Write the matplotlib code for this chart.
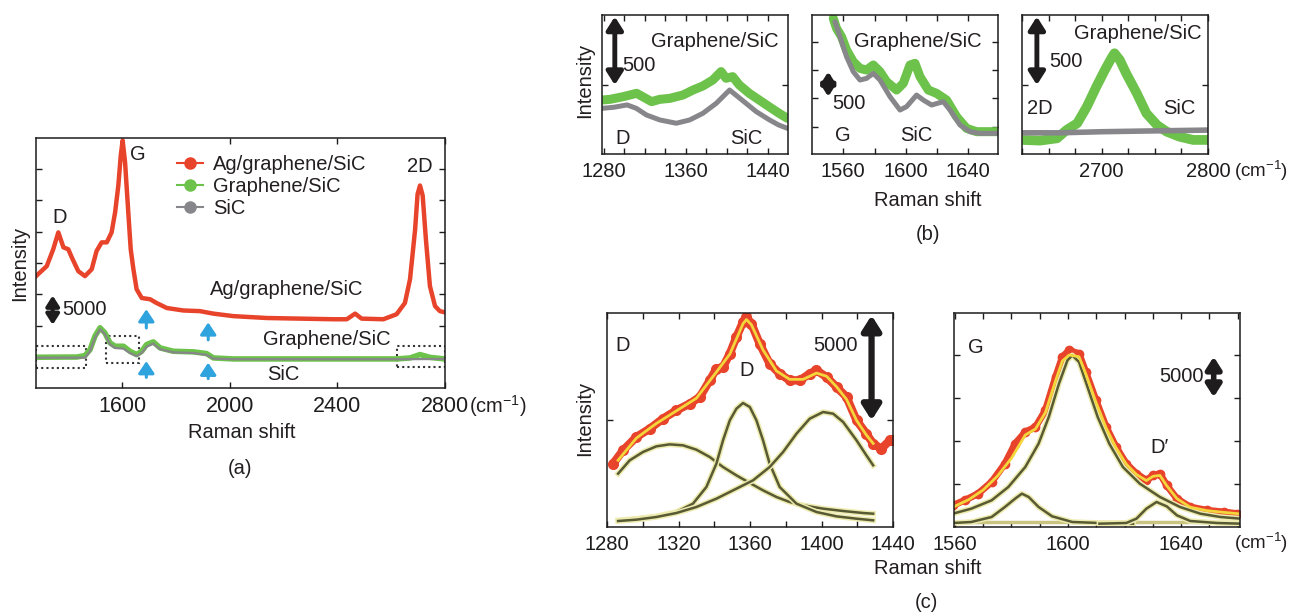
import matplotlib.pyplot as plt
import matplotlib.patheffects as pe
from matplotlib.lines import Line2D
from matplotlib.patches import Rectangle

plt.rcParams['font.family'] = ['Liberation Sans', 'DejaVu Sans']
plt.rcParams['font.size'] = 14
plt.rcParams['text.color'] = '#231f20'
plt.rcParams['mathtext.fontset'] = 'custom'
plt.rcParams['mathtext.rm'] = 'Liberation Sans'
plt.rcParams['mathtext.default'] = 'rm'

# ---------- (a) full spectra ----------
a_x_ag = [1280, 1320, 1344, 1363, 1382, 1400, 1413, 1437, 1462, 1487, 1505, 1524, 1543, 1561, 1574,
          1586, 1595, 1602, 1611, 1623, 1632, 1642, 1654, 1673, 1704, 1728, 1766, 1828, 1889, 1939,
          2013, 2137, 2261, 2385, 2435, 2466, 2490, 2571, 2620, 2651, 2670, 2689, 2698, 2707, 2717,
          2729, 2744, 2763, 2781, 2800]
a_y_ag = [17900, 19500, 22200, 24900, 22500, 22200, 20900, 18700, 17900, 19000, 21900, 23300, 23300,
          24900, 28100, 32400, 37200, 39600, 36100, 28100, 22200, 19000, 15800, 14400, 14200, 13600,
          12800, 12400, 12300, 11900, 11500, 11200, 11100, 11000, 11000, 11900, 11100, 11000, 11800,
          13600, 17400, 25400, 31000, 32400, 30800, 23800, 16300, 13100, 12300, 12100]
a_x_gr = [1280, 1394, 1431, 1462, 1481, 1499, 1518, 1536, 1555, 1574, 1605, 1629, 1654, 1673, 1691,
          1716, 1741, 1790, 1865, 1914, 1939, 2013, 2261, 2620, 2670, 2707, 2744, 2800]
a_y_gr = [4920, 4950, 4950, 5190, 6150, 8290, 9630, 8820, 7220, 6680, 6680, 5880, 5350, 5880, 6950,
          7380, 6420, 5880, 5780, 5510, 4810, 4650, 4650, 4650, 4810, 5350, 4900, 4650]
a_x_sic = [1280, 1462, 1481, 1499, 1518, 1536, 1555, 1574, 1605, 1629, 1654, 1673, 1691, 1716, 1741,
           1790, 1865, 1914, 1939, 2013, 2620, 2800]
a_y_sic = [4850, 4850, 5900, 8000, 9400, 8600, 7000, 6400, 6300, 5600, 5100, 5600, 6600, 7100, 6200,
           5700, 5600, 5300, 4700, 4600, 4600, 4650]
a_labels = ['Ag/graphene/SiC', 'Graphene/SiC', 'SiC']

# ---------- (b) zoomed graphene/SiC vs SiC ----------
b1_x_gr = [1278.4, 1286.5, 1299.4, 1312.3, 1326.9, 1334.9, 1344.6, 1357.6, 1367.3, 1377, 1386.7,
           1394.7, 1399.6, 1406, 1412.5, 1422.2, 1431.9, 1441.6, 1451.3, 1459.4]
b1_y_gr = [390, 395, 415, 439, 378, 395, 402, 427, 463, 493, 537, 598, 549, 561, 500, 439, 390, 341,
           293, 256]
b1_x_sic = [1278.4, 1290, 1303, 1312, 1322, 1335, 1351, 1364, 1377, 1390, 1403, 1409, 1419, 1429,
            1442, 1451, 1459.4]
b1_y_sic = [329, 337, 354, 329, 280, 244, 220, 244, 293, 366, 463, 427, 366, 305, 244, 207, 183]

b2_x_gr = [1553.6, 1555.7, 1558.9, 1562.1, 1566.4, 1570.7, 1574.9, 1579.2, 1583.5, 1587.7, 1594.1,
           1598.4, 1602.7, 1605.9, 1609.1, 1614.4, 1619.7, 1626.1, 1632.5, 1638.9, 1645.3, 1651.7, 1659]
b2_y_gr = [2411, 2234, 2087, 1852, 1646, 1529, 1499, 1588, 1470, 1294, 1147, 1264, 1588, 1617, 1382,
           1147, 1088, 970, 676, 470, 412, 412, 412]
b2_x_sic = [1554.7, 1557.9, 1562.1, 1566.4, 1570.7, 1574.9, 1579.2, 1583.5, 1589.9, 1596.3, 1600.5,
            1606.9, 1611.2, 1616.5, 1624, 1628.3, 1634.7, 1641.1, 1647.5, 1659]
b2_y_sic = [2352, 2087, 1735, 1470, 1323, 1352, 1440, 1323, 1029, 794, 853, 1058, 970, 882, 941, 794,
            529, 412, 382, 382]

b3_x_gr = [2625, 2642, 2658, 2667, 2677, 2686, 2695, 2703, 2709, 2712, 2717, 2723, 2733, 2742, 2752,
           2761, 2773, 2786, 2800]
b3_y_gr = [98, 93, 110, 171, 220, 341, 488, 610, 695, 732, 683, 585, 439, 293, 207, 159, 122, 98, 98]
b3_x_sic = [2625, 2660, 2700, 2740, 2800]
b3_y_sic = [150, 150, 158, 163, 170]

# ---------- (c) peak fits of Ag/graphene/SiC ----------
c1_x_data = [1283.4, 1289, 1296.4, 1303.9, 1311.3, 1318.8, 1326.3, 1331.9, 1337.5, 1341.2, 1344.9,
             1348.7, 1352.4, 1356.1, 1358, 1360.8, 1365.4, 1371, 1376.6, 1382.2, 1387.8, 1393.4,
             1397.2, 1402.8, 1408.4, 1414, 1419.6, 1425.1, 1428.9, 1433.5, 1438.2, 1440]
c1_y_data = [2936, 3571, 4206, 4602, 5078, 5475, 5793, 6110, 6903, 7459, 7538, 8173, 8967, 9681,
             9919, 9601, 8649, 7697, 7221, 6903, 6903, 7221, 7380, 7062, 6586, 6110, 4999, 4364,
             3888, 3650, 4047, 4047]
c1_x_fit = [1286.2, 1296.4, 1307.6, 1318.8, 1330, 1341.2, 1348.7, 1356.1, 1358, 1360.8, 1367.3,
            1374.8, 1382.2, 1389.7, 1397.2, 1402.8, 1408.4, 1414, 1419.6, 1425.1, 1428.9]
c1_y_fit = [3100, 4150, 4850, 5450, 6050, 7300, 8150, 9600, 9800, 9550, 8350, 7350, 6950, 6950, 7250,
            7100, 6600, 6000, 5000, 4300, 3900]
c1_x_p1 = [1286.2, 1292.7, 1300.1, 1307.6, 1315.1, 1322.5, 1330, 1337.5, 1344.9, 1352.4, 1359.9,
           1367.3, 1374.8, 1382.2, 1389.7, 1400.9, 1412.1, 1423.3, 1428.9]
c1_y_p1 = [2460, 3095, 3491, 3761, 3856, 3809, 3603, 3253, 2777, 2380, 2015, 1666, 1349, 1111, 952,
           794, 682, 587, 555]
c1_x_p2 = [1286.2, 1296.4, 1307.6, 1318.8, 1328.1, 1335.6, 1341.2, 1344.9, 1348.7, 1352.4, 1356.1,
           1359.9, 1363.6, 1367.3, 1371, 1376.6, 1386, 1397.2, 1408.4, 1419.6, 1428.9]
c1_y_p2 = [238, 317, 428, 635, 1032, 1825, 2936, 4047, 4999, 5554, 5824, 5634, 4999, 4047, 2936,
           1825, 1032, 635, 428, 317, 238]
c1_x_p3 = [1286.2, 1296.4, 1307.6, 1318.8, 1330, 1341.2, 1352.4, 1361.7, 1371, 1378.5, 1386, 1393.4,
           1400.9, 1406.5, 1412.1, 1419.6, 1425.1, 1428.9]
c1_y_p3 = [206, 270, 397, 587, 873, 1270, 1746, 2142, 2777, 3491, 4364, 5078, 5396, 5316, 4920, 4047,
           3333, 2857]

c2_x_data = [1559.3, 1563.5, 1568.2, 1573, 1577.7, 1581.3, 1584.9, 1588.5, 1592, 1595.6, 1598,
             1600.4, 1603.9, 1606.3, 1609.9, 1613.5, 1617, 1620.6, 1624.2, 1627.7, 1630.1, 1632.5,
             1634.9, 1638.5, 1643.2, 1649.2, 1655.1, 1659.9]
c2_y_data = [2519, 3101, 3876, 5233, 7364, 9690, 11047, 11628, 13566, 17442, 19768, 20543, 20155,
             18023, 14729, 11628, 9302, 7364, 6202, 5426, 6008, 6202, 4845, 3295, 2326, 1938, 1744,
             1550]
c2_x_fit = [1559.3, 1565, 1570, 1575, 1580, 1584.9, 1588.5, 1592, 1595.6, 1598, 1600.4, 1603.9,
            1606.3, 1609.9, 1613.5, 1617, 1620.6, 1624.2, 1627.7, 1630.1, 1632.5, 1634.9, 1638.5,
            1643.2, 1649.2, 1655.1, 1660]
c2_y_fit = [2300, 3200, 4300, 5900, 8000, 10700, 11400, 13300, 17000, 19300, 20000, 19800, 17800,
            14500, 11500, 9200, 7300, 6100, 5400, 5900, 6000, 4800, 3300, 2300, 1900, 1700, 1550]
c2_x_g = [1559.3, 1565.8, 1573, 1578.9, 1584.9, 1589.6, 1593.2, 1596.8, 1599.8, 1601.5, 1603.9,
          1606.9, 1610.5, 1614.6, 1619.4, 1625.4, 1632.5, 1639.6, 1646.8, 1653.9, 1661]
c2_y_g = [1550, 2132, 3101, 4651, 6977, 9690, 12791, 16667, 19380, 19961, 19186, 16279, 12791, 9690,
          6977, 5039, 3488, 2326, 1550, 1163, 969]
c2_x_sh = [1559.3, 1565.8, 1573, 1577.7, 1581.3, 1583.7, 1586.1, 1589.6, 1594.4, 1601.5, 1611.1, 1623]
c2_y_sh = [465, 581, 1163, 2326, 3295, 3876, 3488, 2326, 1240, 581, 465, 388]
c2_x_dp = [1611.1, 1620.6, 1624.2, 1627.7, 1631.3, 1634.9, 1638.5, 1643.2, 1652.7, 1661]
c2_y_dp = [388, 465, 969, 2132, 2907, 2403, 1357, 698, 465, 388]
c2_x_base = [1559.3, 1661]
c2_y_base = [560, 560]

RED = '#e8432b'
GREEN = '#6cc24a'
GRAY = '#87868a'
YELLOW = '#f3d63a'
OLIVE = '#575a32'
HALO = '#eeebb0'
BLUE = '#2fa3de'
INK = '#1e1c1d'
W, H = 1291, 613
FS = 14.5
UNIT = '(cm$^{\\mathregular{-1}}$)'

fig = plt.figure(figsize=(W / 100, H / 100), dpi=100)


def px_axes(left, top, right, bottom):
    return fig.add_axes([left / W, 1 - bottom / H, (right - left) / W, (bottom - top) / H])


def style(ax, xlim, ylim, major, minor, yticks, labelsize=FS):
    ax.set_xlim(*xlim)
    ax.set_ylim(*ylim)
    ax.set_xticks(major)
    ax.set_xticks(minor, minor=True)
    ax.set_yticks(yticks)
    ax.set_yticklabels([])
    ax.tick_params(which='both', direction='in', top=True, right=True, length=4, width=1,
                   labelsize=labelsize, pad=6, colors=INK)
    for s in ax.spines.values():
        s.set_linewidth(1.1)
        s.set_color(INK)


def dbl_arrow(ax, x, y0, y1, ms=14, lw=3.5):
    ax.annotate('', xy=(x, y1), xytext=(x, y0),
                arrowprops=dict(arrowstyle='<|-|>,head_length=0.55,head_width=0.35',
                                lw=lw, color=INK, shrinkA=0, shrinkB=0, mutation_scale=ms))


def up_arrow(ax, x, y0, y1):
    ax.annotate('', xy=(x, y1), xytext=(x, y0),
                arrowprops=dict(arrowstyle='-|>,head_length=0.6,head_width=0.4', lw=2.2,
                                color=BLUE, shrinkA=0, shrinkB=0, mutation_scale=12))


# ---------- (a) ----------
ax = px_axes(36, 138, 445, 388)
style(ax, (1280, 2800), (0, 40000), [1600, 2000, 2400, 2800], [],
      range(5000, 40000, 5000), labelsize=15.5)
ax.plot(a_x_gr, a_y_gr, color=GREEN, lw=4, solid_capstyle='round')
ax.plot(a_x_sic, a_y_sic, color=GRAY, lw=1.6)
ax.plot(a_x_ag, a_y_ag, color=RED, lw=3.2)
for x0, x1, y0, y1 in [(1280, 1466, 3210, 6680), (1540, 1664, 4010, 8400), (2620, 2800, 3320, 6790)]:
    ax.add_patch(Rectangle((x0, y0), x1 - x0, y1 - y0, fill=False, ls=(0, (1, 1.5)), lw=1.5,
                           ec='#333333'))
up_arrow(ax, 1690, 9600, 12600)
up_arrow(ax, 1920, 7700, 10500)
up_arrow(ax, 1690, 1700, 4300)
up_arrow(ax, 1920, 1500, 4050)
dbl_arrow(ax, 1342, 10100, 14800, ms=11, lw=3)
ax.text(1378, 12500, '5000', fontsize=FS, va='center', ha='left')
ax.text(1368, 27300, 'D', fontsize=FS, ha='center', va='center')
ax.text(1660, 37400, 'G', fontsize=FS, ha='center', va='center')
ax.text(2707, 35500, '2D', fontsize=FS, ha='center', va='center')
ax.text(2211, 15700, 'Ag/graphene/SiC', fontsize=FS, ha='center', va='center')
ax.text(2360, 7700, 'Graphene/SiC', fontsize=FS, ha='center', va='center')
ax.text(2199, 2100, 'SiC', fontsize=FS, ha='center', va='center')
handles = [Line2D([], [], color=c, lw=1.5, marker='o', ms=8) for c in (RED, GREEN, GRAY)]
ax.legend(handles, a_labels, loc='upper left', bbox_to_anchor=(0.345, 0.932), frameon=False,
          fontsize=FS, handlelength=1.3, handletextpad=0.5, labelspacing=0.15, borderpad=0,
          borderaxespad=0)
fig.text(469 / W, 1 - 406 / H, UNIT, fontsize=FS, ha='left', va='center')
fig.text(20 / W, 1 - 263 / H, 'Intensity', fontsize=FS, rotation=90, ha='center', va='center')
fig.text(242 / W, 1 - 432 / H, 'Raman shift', fontsize=FS, ha='center', va='center')
fig.text(240 / W, 1 - 468 / H, '(a)', fontsize=FS, ha='center', va='center')

# ---------- (b) ----------
ax = px_axes(602, 15, 788, 154)
style(ax, (1278.5, 1460), (-5, 1012), [1280, 1360, 1440], range(1300, 1460, 20), [500])
ax.plot(b1_x_gr, b1_y_gr, color=GREEN, lw=6.5, solid_capstyle='round')
ax.plot(b1_x_sic, b1_y_sic, color=GRAY, lw=3.6, solid_capstyle='round')
dbl_arrow(ax, 1291, 500, 1000)
ax.text(1298, 640, '500', fontsize=FS, va='center', ha='left')
ax.text(1389, 820, 'Graphene/SiC', fontsize=FS, va='center', ha='center')
ax.text(1299, 110, 'D', fontsize=FS, va='center', ha='center')
ax.text(1419, 110, 'SiC', fontsize=FS, va='center', ha='center')

ax = px_axes(812, 15, 998, 154)
style(ax, (1540, 1659), (18, 2470), [1560, 1600, 1640], [1580, 1620], [500, 1000, 1500, 2000])
ax.plot(b2_x_gr, b2_y_gr, color=GREEN, lw=6.5, solid_capstyle='round')
ax.plot(b2_x_sic, b2_y_sic, color=GRAY, lw=3.6, solid_capstyle='round')
dbl_arrow(ax, 1550.4, 1029, 1470, ms=12)
ax.text(1553, 905, '500', fontsize=FS, va='center', ha='left')
ax.text(1608, 2000, 'Graphene/SiC', fontsize=FS, va='center', ha='center')
ax.text(1560, 350, 'G', fontsize=FS, va='center', ha='center')
ax.text(1607, 350, 'SiC', fontsize=FS, va='center', ha='center')

ax = px_axes(1022, 15, 1208, 154)
style(ax, (2625, 2800), (-5, 1012), [2700, 2800], [2625, 2650, 2675, 2725, 2750, 2775], [500])
ax.plot(b3_x_gr, b3_y_gr, color=GREEN, lw=7, solid_capstyle='round')
ax.plot(b3_x_sic, b3_y_sic, color=GRAY, lw=4)
dbl_arrow(ax, 2639, 500, 1000)
ax.text(2651, 670, '500', fontsize=FS, va='center', ha='left')
ax.text(2734, 878, 'Graphene/SiC', fontsize=FS, va='center', ha='center')
ax.text(2642, 329, '2D', fontsize=FS, va='center', ha='center')
ax.text(2773, 329, 'SiC', fontsize=FS, va='center', ha='center')

fig.text(1234 / W, 1 - 171 / H, UNIT, fontsize=13.5, ha='left', va='center')
fig.text(585 / W, 1 - 80 / H, 'Intensity', fontsize=FS, rotation=90, ha='center', va='center')
fig.text(928 / W, 1 - 200 / H, 'Raman shift', fontsize=FS, ha='center', va='center')
fig.text(928 / W, 1 - 235 / H, '(b)', fontsize=FS, ha='center', va='center')

# ---------- (c) ----------
halo = [pe.Stroke(linewidth=4, foreground=HALO), pe.Normal()]

ax = px_axes(607, 313, 893, 527)
style(ax, (1280, 1440), (-79, 10110), [1280, 1320, 1360, 1400, 1440], range(1300, 1440, 40),
      [5000])
ax.plot(c1_x_data, c1_y_data, color=RED, lw=6, marker='o', ms=7, solid_capstyle='round')
for xs, ys in [(c1_x_p1, c1_y_p1), (c1_x_p2, c1_y_p2), (c1_x_p3, c1_y_p3)]:
    ax.plot(xs, ys, color=OLIVE, lw=1.8, path_effects=halo)
ax.plot(c1_x_fit, c1_y_fit, color=YELLOW, lw=2)
dbl_arrow(ax, 1428, 5000, 10000, ms=16, lw=4.5)
ax.text(1289, 8570, 'D', fontsize=FS, va='center', ha='center')
ax.text(1358, 7380, 'D', fontsize=FS, va='center', ha='center')
ax.text(1408, 8570, '5000', fontsize=FS, va='center', ha='center')

ax = px_axes(954, 313, 1240, 527)
style(ax, (1559.7, 1660.8), (0, 24884), [1560, 1600, 1640],
      [1570, 1580, 1590, 1610, 1620, 1630, 1650, 1660], [5000, 10000, 15000, 20000])
ax.plot(c2_x_data, c2_y_data, color=RED, lw=5, marker='o', ms=6, solid_capstyle='round')
ax.plot(c2_x_base, c2_y_base, color='#c9c480', lw=2.5)
for xs, ys in [(c2_x_g, c2_y_g), (c2_x_sh, c2_y_sh), (c2_x_dp, c2_y_dp)]:
    ax.plot(xs, ys, color=OLIVE, lw=1.8, path_effects=halo)
ax.plot(c2_x_fit, c2_y_fit, color=YELLOW, lw=2)
dbl_arrow(ax, 1651.5, 15100, 19800, ms=13, lw=4)
ax.text(1567.4, 20900, 'G', fontsize=FS, va='center', ha='center')
ax.text(1640, 17500, '5000', fontsize=FS, va='center', ha='center')
ax.text(1632.5, 9300, 'D′', fontsize=FS, va='center', ha='center')

fig.text(1234 / W, 1 - 543 / H, UNIT, fontsize=13.5, ha='left', va='center')
fig.text(585 / W, 1 - 418 / H, 'Intensity', fontsize=FS, rotation=90, ha='center', va='center')
fig.text(928 / W, 1 - 568 / H, 'Raman shift', fontsize=FS, ha='center', va='center')
fig.text(926 / W, 1 - 602 / H, '(c)', fontsize=FS, ha='center', va='center')

fig.savefig('out.png', dpi=100)
